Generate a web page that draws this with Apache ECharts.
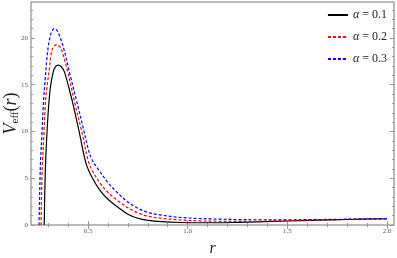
<!DOCTYPE html>
<html>
<head>
<meta charset="utf-8">
<script src="https://cdn.jsdelivr.net/npm/echarts@6/dist/echarts.min.js"></script>
<style>html,body{margin:0;padding:0;background:#fff}#c{width:397px;height:258px}</style>
</head>
<body>
<div id="c"></div>
<script>
// ---- data ----
const seriesNames = ['α = 0.1', 'α = 0.2', 'α = 0.3'];

const r1 = [0.2802,0.2832,0.2873,0.2943,0.3028,0.3118,0.3259,0.3369,0.3510,0.3645,0.3811,0.4097,0.4262,0.4563,0.49,0.52,0.56,0.60,0.65,0.70,0.75,0.80,0.87,0.96,1.05,1.15,1.25,1.35,1.5,1.65,1.8,2.0];
const v1 = [0,3.5,6.7,9.9,12.8,14.8,16.4,16.95,17.1,16.95,16.4,14.2,12.8,9.9,6.6,5.1,3.7,2.75,1.9,1.15,0.72,0.5,0.36,0.27,0.24,0.24,0.28,0.34,0.43,0.52,0.59,0.67];

const r2 = [0.2642,0.2677,0.2717,0.2792,0.2857,0.2943,0.3058,0.3144,0.3229,0.3319,0.3430,0.3545,0.3645,0.3796,0.3981,0.4363,0.4699,0.5035,0.53,0.56,0.60,0.65,0.70,0.75,0.80,0.87,0.96,1.05,1.15,1.25,1.35,1.5,1.65,1.8,2.0];
const v2 = [0,4,6.7,9.9,12.8,14.8,16.6,18.2,18.9,19.2,19.3,19.15,18.9,17.9,16.4,12.8,9.9,6.7,5.5,4.5,3.5,2.6,1.85,1.3,0.95,0.72,0.55,0.45,0.4,0.39,0.41,0.47,0.54,0.6,0.67];

const r3 = [0.2541,0.2582,0.2617,0.2692,0.2757,0.2842,0.2928,0.3008,0.3094,0.3194,0.3319,0.3445,0.3595,0.3781,0.4062,0.4483,0.4814,0.5015,0.52,0.56,0.60,0.65,0.70,0.75,0.80,0.87,0.96,1.05,1.15,1.25,1.35,1.5,1.65,1.8,2.0];
const v3 = [0,4,6.7,9.9,12.8,15.3,17.6,19.1,20.1,20.75,21.0,20.8,20.1,18.9,16.4,12.8,9.9,8.1,7.0,5.7,4.55,3.4,2.45,1.8,1.35,1.05,0.82,0.7,0.63,0.58,0.56,0.56,0.58,0.62,0.67];

const xTicks = [0.5, 1.0, 1.5, 2.0];
const xMinor = [0.3,0.4,0.6,0.7,0.8,0.9,1.1,1.2,1.3,1.4,1.6,1.7,1.8,1.9];
const yTicks = [0, 5, 10, 15, 20];
const yMinor = [1,2,3,4,6,7,8,9,11,12,13,14,16,17,18,19,21,22,23];

const zip = (a, b) => a.map((x, i) => [x, b[i]]);

const XMIN = 0.214, XMAX = 2.035, YMIN = 0, YMAX = 23.85;
const frameCol = '#777';
const tickCol = '#999';
const labelFont = { fontFamily: 'Liberation Serif', fontSize: 7, color: '#555' };

function xAx(pos, vals, len, labels) {
  return {
    type: 'value', position: pos, min: XMIN, max: XMAX,
    axisLine: { show: false }, splitLine: { show: false },
    axisTick: { show: true, inside: true, length: len, customValues: vals, lineStyle: { color: tickCol, width: 1 } },
    axisLabel: labels ? Object.assign({ show: true, margin: 3, customValues: vals, formatter: v => v.toFixed(1) }, labelFont) : { show: false }
  };
}
function yAx(pos, vals, len, labels) {
  return {
    type: 'value', position: pos, min: YMIN, max: YMAX,
    axisLine: { show: false }, splitLine: { show: false },
    axisTick: { show: true, inside: true, length: len, customValues: vals, lineStyle: { color: tickCol, width: 1 } },
    axisLabel: labels ? Object.assign({ show: true, margin: 3, customValues: vals }, labelFont) : { show: false }
  };
}

const xMain = xAx('bottom', xTicks, 4, true);
xMain.name = 'r';
xMain.nameLocation = 'middle';
xMain.nameGap = 16;
xMain.nameMoveOverlap = false;
xMain.nameTextStyle = { fontFamily: 'Liberation Serif', fontStyle: 'italic', fontSize: 16, color: '#222' };

const yMain = yAx('left', yTicks, 4, true);
yMain.name = '{v|V}{s|eff}{p|(}{r|r}{p|)}';
yMain.nameLocation = 'middle';
yMain.nameRotate = 90;
yMain.nameGap = 10;
yMain.nameMoveOverlap = false;
yMain.nameTextStyle = {
  color: '#222',
  rich: {
    v: { fontFamily: 'Liberation Serif', fontStyle: 'italic', fontSize: 18, color: '#222', lineHeight: 20 },
    s: { fontFamily: 'Liberation Serif', fontSize: 11, color: '#222', verticalAlign: 'bottom', lineHeight: 20 },
    p: { fontFamily: 'Liberation Serif', fontSize: 18, color: '#222', lineHeight: 20 },
    r: { fontFamily: 'Liberation Serif', fontStyle: 'italic', fontSize: 18, color: '#222', lineHeight: 20 }
  }
};

const colors = ['#000000', '#ff0000', '#0000ff'];
const dash = [null, [3, 2], [3, 2]];
const datas = [zip(r1, v1), zip(r2, v2), zip(r3, v3)];

const chart = echarts.init(document.getElementById('c'), null, { renderer: 'canvas' });
chart.setOption({
  animation: false,
  backgroundColor: '#fff',
  grid: { left: 31, right: 3, top: 2, bottom: 33, show: true, borderColor: frameCol, borderWidth: 1, backgroundColor: 'transparent', containLabel: false, outerBoundsMode: 'none' },
  xAxis: [xMain, xAx('bottom', xMinor, 2, false), xAx('top', xTicks, 4, false), xAx('top', xMinor, 2, false)],
  yAxis: [yMain, yAx('left', yMinor, 2, false), yAx('right', yTicks, 4, false), yAx('right', yMinor, 2, false)],
  legend: {
    orient: 'vertical', right: 10, top: 9, padding: 0,
    itemWidth: 20, itemHeight: 10, itemGap: 10,
    data: seriesNames,
    itemStyle: { opacity: 0, borderWidth: 0 },
    formatter: n => '{g|α}' + n.slice(1),
    textStyle: {
      fontFamily: 'Liberation Serif', fontSize: 12, color: '#222',
      rich: { g: { fontFamily: 'Liberation Serif', fontStyle: 'italic', fontSize: 12, color: '#222' } }
    }
  },
  series: seriesNames.map((n, i) => ({
    name: n, type: 'line', xAxisIndex: 0, yAxisIndex: 0,
    data: datas[i], showSymbol: false, symbol: 'none', smooth: 0.35,
    lineStyle: { color: colors[i], width: 1.2, type: dash[i] || 'solid' },
    itemStyle: { color: colors[i] },
    clip: true
  }))
});
</script>
</body>
</html>
